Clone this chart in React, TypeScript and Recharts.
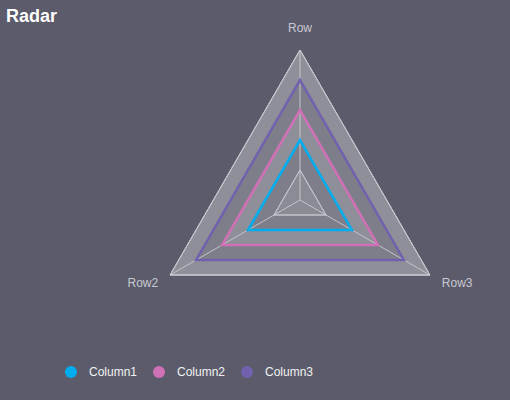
import React from "react";
import {
  RadarChart,
  Radar,
  PolarGrid,
  PolarAngleAxis,
  PolarRadiusAxis,
  Legend,
} from "recharts";

const rows = ["Row", "Row2", "Row3"];
const column1 = [2, 2, 2];
const column2 = [3, 3, 3];
const column3 = [4, 4, 4];
const seriesNames = ["Column1", "Column2", "Column3"];
const seriesColors = ["#00aeef", "#d070b6", "#7262ae"];
// grid ring levels, outermost first, with alternating band shading
const bandLevels = [5, 4, 3, 2, 1];
const bandFills = ["#8f8f99", "#7e7e8a", "#8f8f99", "#7e7e8a", "#8b8b95"];

const BG = "#5b5b6b";
const GRID = "#c4c4cc";

const data = rows.map((row, i) => {
  const d: Record<string, string | number> = {
    row,
    Column1: column1[i],
    Column2: column2[i],
    Column3: column3[i],
  };
  bandLevels.forEach((lvl) => {
    d[`band${lvl}`] = lvl;
  });
  return d;
});

const AngleTick = (props: any) => {
  const { x, y, cx, payload } = props;
  const dx = x - cx;
  let tx = x;
  let ty = y;
  let anchor: "start" | "middle" | "end" = "middle";
  if (Math.abs(dx) < 1) {
    ty = y - 10;
  } else if (dx < 0) {
    anchor = "end";
    tx = x - 5;
    ty = y + 8;
  } else {
    anchor = "start";
    tx = x + 5;
    ty = y + 8;
  }
  return (
    <text
      x={tx}
      y={ty}
      textAnchor={anchor}
      fill="#c8c8d0"
      fontSize={12}
      fontFamily="'Liberation Sans', Arial, sans-serif">
      {payload.value}
    </text>
  );
};

const LegendContent = (props: any) => {
  const items = (props.payload || []).filter((p: any) =>
    seriesNames.includes(p.value)
  );
  return (
    <div style={{ display: "flex" }}>
      {items.map((entry: any, i: number) => (
        <div
          key={i}
          style={{ display: "flex", alignItems: "center", width: 88 }}>
          <span
            style={{
              width: 12,
              height: 12,
              borderRadius: 6,
              background: entry.color,
              marginRight: 12,
            }}
          />
          <span
            style={{
              color: "#f2f2f2",
              fontSize: 12,
              fontFamily: "'Liberation Sans', Arial, sans-serif",
            }}>
            {entry.value}
          </span>
        </div>
      ))}
    </div>
  );
};

export default function App() {
  return (
    <div
      style={{
        position: "absolute",
        left: 0,
        top: 0,
        width: 510,
        height: 400,
        background: BG,
        overflow: "hidden",
      }}>
      <div
        style={{
          position: "absolute",
          left: 6,
          top: 6,
          color: "#ffffff",
          fontSize: 18,
          fontWeight: "bold",
          fontFamily: "'Liberation Sans', Arial, sans-serif",
        }}>
        Radar
      </div>
      <RadarChart
        width={510}
        height={400}
        data={data}
        cx={300}
        cy={200}
        outerRadius={150}
        startAngle={210}
        endAngle={570}
        margin={{ top: 0, right: 0, bottom: 0, left: 0 }}>
        {bandLevels.map((lvl, i) => (
          <Radar
            key={`band${lvl}`}
            dataKey={`band${lvl}`}
            stroke={GRID}
            strokeWidth={1}
            fill={bandFills[i]}
            fillOpacity={1}
            legendType="none"
            isAnimationActive={false}
            zIndex={-200}
          />
        ))}
        <PolarGrid
          gridType="polygon"
          stroke={GRID}
          strokeOpacity={1}
          zIndex={-100}
        />
        <PolarAngleAxis
          dataKey="row"
          tick={<AngleTick />}
          tickLine={false}
          axisLine={{ stroke: GRID }}
        />
        <PolarRadiusAxis
          domain={[0, 5]}
          tickCount={6}
          tick={false}
          axisLine={false}
        />
        {seriesNames.map((name, i) => (
          <Radar
            key={name}
            name={name}
            dataKey={name}
            stroke={seriesColors[i]}
            strokeWidth={2.5}
            fill="none"
            fillOpacity={0}
            dot={false}
            isAnimationActive={false}
          />
        ))}
        <Legend
          content={<LegendContent />}
          wrapperStyle={{ position: "absolute", left: 65, top: 365, width: 300 }}
        />
      </RadarChart>
    </div>
  );
}
